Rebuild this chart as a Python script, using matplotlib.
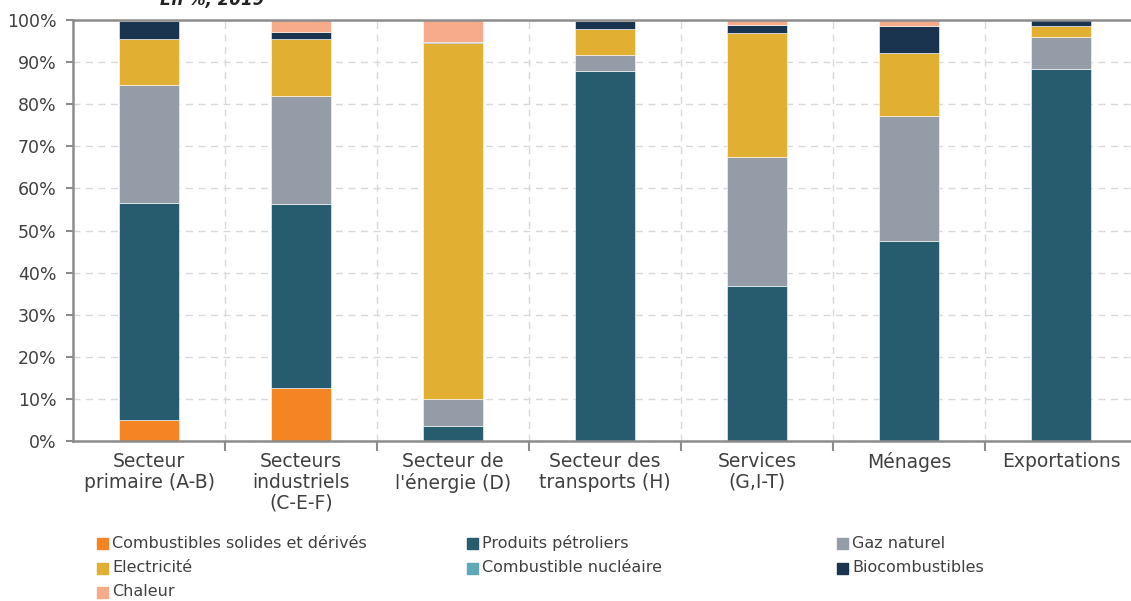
import matplotlib
matplotlib.use("Agg")
import matplotlib.pyplot as plt
from matplotlib.patches import Rectangle
import numpy as np

# ------------------------------------------------------------------
# Données (en %, 2019)
# ------------------------------------------------------------------
categories = ["Secteur\nprimaire (A-B)", "Secteurs\nindustriels\n(C-E-F)",
              "Secteur de\nl'énergie (D)", "Secteur des\ntransports (H)",
              "Services\n(G,I-T)", "Ménages", "Exportations"]

combustibles_solides = [5.0, 12.6, 0.0, 0.0, 0.0, 0.0, 0.0]
produits_petroliers = [51.5, 43.7, 3.6, 87.9, 36.8, 47.5, 88.3]
gaz_naturel = [28.1, 25.7, 6.4, 3.8, 30.7, 29.8, 7.7]
electricite = [11.0, 13.4, 84.5, 6.2, 29.5, 14.8, 2.6]
combustible_nucleaire = [0.0, 0.0, 0.0, 0.0, 0.0, 0.0, 0.0]
biocombustibles = [4.2, 1.7, 0.3, 1.9, 1.8, 6.5, 1.4]
chaleur = [0.2, 2.9, 5.2, 0.2, 1.2, 1.4, 0.0]

series = [
    ("Combustibles solides et dérivés", combustibles_solides, "#F58423"),
    ("Produits pétroliers", produits_petroliers, "#275B6E"),
    ("Gaz naturel", gaz_naturel, "#939CA7"),
    ("Electricité", electricite, "#E1B033"),
    ("Combustible nucléaire", combustible_nucleaire, "#5FA8B8"),
    ("Biocombustibles", biocombustibles, "#1A3450"),
    ("Chaleur", chaleur, "#F6AB8A"),
]

plt.rcParams['font.family'] = ['DejaVu Sans']
W, H = 1131, 601
fig = plt.figure(figsize=(W / 100, H / 100), dpi=100)
ax = fig.add_axes([73 / W, 1 - 441 / H, (W - 73) / W, (441 - 20) / H])

x = np.arange(len(categories))
bottom = np.zeros(len(categories))
for label, vals, color in series:
    vals = np.array(vals)
    ax.bar(x, vals, width=0.4, bottom=bottom, color=color, label=label,
           edgecolor="white", linewidth=0.4, zorder=2)
    bottom += vals

ax.set_xlim(-0.5, 6.46)
ax.set_ylim(0, 100)

grid_col = "#D9D9D9"
axis_col = "#8C8C8C"
ax.set_yticks(np.arange(0, 101, 10))
ax.set_yticklabels([f"{v}%" for v in range(0, 101, 10)], fontsize=12.5, color="#404040")
ax.set_xticks(x)
ax.set_xticklabels(categories, fontsize=13.5, color="#404040", linespacing=1.12)
ax.set_xticks(np.arange(0.5, 6.5, 1), minor=True)
ax.tick_params(axis='x', which='major', length=0, pad=8)
ax.tick_params(axis='x', which='minor', length=7, width=1.5, color=axis_col, direction='out')
ax.tick_params(axis='y', length=5, width=1.5, color=axis_col, pad=7)

ax.yaxis.grid(True, linestyle=(0, (5, 4)), color=grid_col, linewidth=1, zorder=0)
ax.xaxis.grid(True, which='minor', linestyle=(0, (5, 4)), color=grid_col, linewidth=1, zorder=0)
ax.set_axisbelow(True)

for side in ["left", "bottom", "top"]:
    ax.spines[side].set_color(axis_col)
    ax.spines[side].set_linewidth(1.8)
    ax.spines[side].set_zorder(3)
ax.spines["right"].set_visible(False)

# titre (coupé en haut, comme dans l'original)
fig.text(160 / W, 1 - 5 / H, "En %, 2019", fontsize=12, fontweight="bold",
         fontstyle="italic", color="#222222", ha="left", va="baseline")

# légende
cols_x = [97, 467, 837]
rows_y = [543, 568, 592]
for i, (label, vals, color) in enumerate(series):
    r, c = divmod(i, 3)
    px, py = cols_x[c], rows_y[r]
    fig.patches.append(Rectangle((px / W, 1 - (py + 5.5) / H), 11 / W, 11 / H,
                                 transform=fig.transFigure, color=color))
    fig.text((px + 15) / W, 1 - py / H, label, fontsize=11.5, color="#404040",
             ha="left", va="center")

fig.savefig("out.png", dpi=100)
